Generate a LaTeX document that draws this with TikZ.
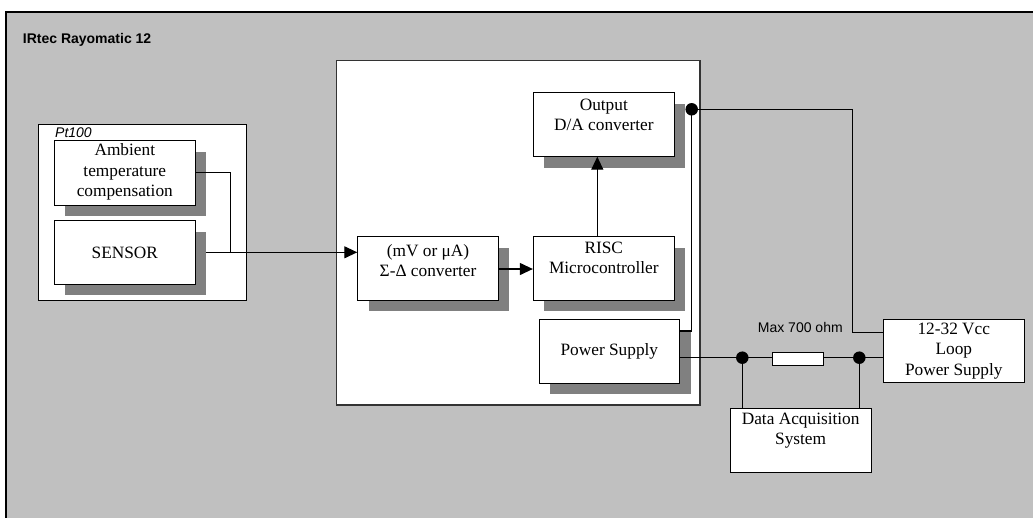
\documentclass[tikz,border=0pt]{standalone}
\usepackage{fontspec}
\setmainfont{Liberation Serif}
\setsansfont{Liberation Sans}
\usetikzlibrary{arrows.meta}
\definecolor{bggray}{HTML}{C0C0C0}
\definecolor{shadowgray}{HTML}{808080}
\begin{document}
\begin{tikzpicture}[x=1pt,y=-1pt,
  boxtext/.style={inner sep=0pt, align=center, font=\fontsize{17.3}{20.5}\selectfont},
  plainbox/.style={draw=black, fill=white, line width=0.9pt, inner sep=0pt},
  shadowbox/.style={plainbox, preaction={fill=shadowgray, draw=none, transform canvas={xshift=10.8pt,yshift=-11pt}}},
  wire/.style={line width=1.2pt, black},
  arrowwire/.style={wire, -{Triangle[length=13pt,width=12pt]}},
  junction/.style={circle, fill=black, inner sep=0pt, minimum size=12.5pt},
  sanslabel/.style={inner sep=0pt, font=\sffamily\fontsize{14}{16}\selectfont}
]
\path[use as bounding box, clip] (0,0) rectangle (1033,517);
% outer frame
\draw[fill=bggray, line width=1.8pt] (6,12) rectangle (1045,530);
\node[sanslabel, font=\sffamily\bfseries\fontsize{14}{16}\selectfont, anchor=base west] (title) at (22.7,43.3) {IRtec Rayomatic 12};

% Pt100 frame
\node[plainbox, minimum width=208.4pt, minimum height=176pt] (pt) at (142.5,212.7) {};
\node[sanslabel, font=\sffamily\itshape\fontsize{14}{16}\selectfont, anchor=base west] (ptlabel) at (55,137.5) {Pt100};

% main instrument frame
\node[draw=black!80, fill=white, line width=1.3pt, inner sep=0pt, minimum width=363.3pt, minimum height=344.3pt] (main) at (518.35,232.85) {};

% blocks
\node[shadowbox, minimum width=141pt, minimum height=64.3pt] (amb) at (124.8,172.85) {};
\node[boxtext] (ambt) at (124.8,172.3) {Ambient\\temperature\\compensation};

\node[shadowbox, minimum width=141pt, minimum height=63.6pt] (sensor) at (124.8,252.5) {};
\node[boxtext] (sensort) at (124.8,252.5) {SENSOR};

\node[shadowbox, minimum width=140.6pt, minimum height=63.6pt] (sd) at (428,268.5) {};
\node[boxtext] (sdt) at (428,260.5) {(mV or μA)\\Σ-Δ converter};

\node[shadowbox, minimum width=141pt, minimum height=63.6pt] (risc) at (603.8,268.5) {};
\node[boxtext] (risct) at (603.8,257.8) {RISC\\Microcontroller};

\node[shadowbox, minimum width=141pt, minimum height=64pt] (out) at (603.8,124.7) {};
\node[boxtext] (outt) at (603.8,115) {Output\\D/A converter};

\node[shadowbox, minimum width=140.7pt, minimum height=64.3pt] (ps) at (609.35,351.15) {};
\node[boxtext] (pst) at (609.35,351.5) {Power Supply};

\node[plainbox, minimum width=141pt, minimum height=63.7pt] (loop) at (953.8,350.85) {};
\node[boxtext] (loopt) at (953.8,351) {12-32 Vcc\\Loop\\Power Supply};

\node[plainbox, minimum width=140.7pt, minimum height=64pt] (daq) at (800.65,440.3) {};
\node[boxtext] (daqt) at (800.65,430.5) {Data Acquisition\\System};

% coordinates
\coordinate (j1) at (230.3,252.3);
\coordinate (dotA) at (691.7,109.3);
\coordinate (psout) at (680,331);
\coordinate (c2) at (852.7,332.3);
\coordinate (d1) at (742.3,357.7);
\coordinate (d2) at (859.3,357.7);

% connectors
\draw[wire] (amb.east |- 0,172.3) -| (j1);
\draw[arrowwire] ([xshift=10.5pt]sensor.east |- j1) -- (sd.west |- j1);
\draw[arrowwire] (sd.east |- 0,269) -- (risc.west |- 0,269);
\draw[arrowwire] (597.3,236.7) -- (597.3,156.7);
\draw[wire] (psout) -| (dotA);
\draw[wire] (dotA) -| (c2) -- (loop.west |- c2);

% resistor
\node[draw=black, fill=white, line width=1pt, inner sep=0pt, minimum width=51.4pt, minimum height=13pt] (res) at (798,358.5) {};
\node[sanslabel, anchor=base west] (maxlabel) at (757.7,332.3) {Max 700 ohm};

\draw[wire] (ps.east |- d1) -- (d1) -- (res.west |- d1);
\draw[wire] (res.east |- d2) -- (d2) -- (loop.west |- d2);
\draw[wire] (d1) -- (d1 |- daq.north);
\draw[wire] (d2) -- (d2 |- daq.north);

% junction dots
\node[junction] (dotAn) at (dotA) {};
\node[junction] (d1n) at (d1) {};
\node[junction] (d2n) at (d2) {};
\end{tikzpicture}
\end{document}
